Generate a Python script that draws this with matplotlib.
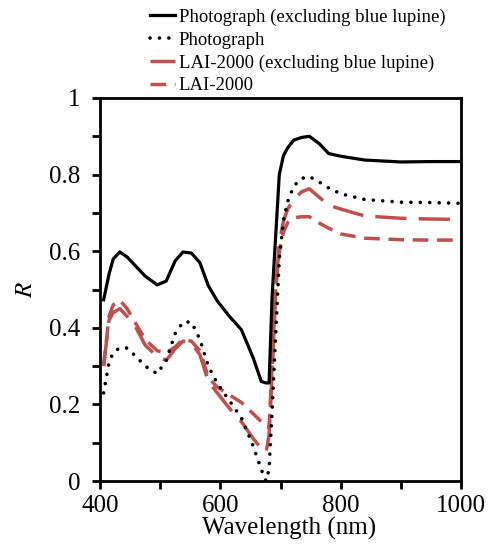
import matplotlib
matplotlib.use('Agg')
import matplotlib.pyplot as plt
from matplotlib.ticker import MultipleLocator

# ==========================================
# data
# ==========================================
wavelength = [406, 415, 422, 433, 445, 460, 475, 495, 510, 525, 538, 552, 566, 580, 595,
              615, 635, 655, 668, 676, 681, 686, 692, 698, 705, 712, 722, 735, 748, 765,
              780, 800, 840, 900, 950, 1000]

photo_excl = [0.473, 0.54, 0.58, 0.598, 0.585, 0.56, 0.535, 0.512, 0.522, 0.575, 0.598, 0.595,
              0.57, 0.51, 0.47, 0.43, 0.395, 0.32, 0.26, 0.256, 0.256, 0.48, 0.64, 0.80,
              0.85, 0.87, 0.89, 0.897, 0.90, 0.88, 0.855, 0.848, 0.838, 0.833, 0.834, 0.834]

photo_all = [0.23, 0.31, 0.335, 0.348, 0.347, 0.325, 0.30, 0.28, 0.315, 0.385, 0.415, 0.415,
             0.37, 0.30, 0.255, 0.21, 0.165, 0.09, 0.03, 0.0, 0.03, 0.18, 0.38, 0.58,
             0.68, 0.73, 0.77, 0.79, 0.795, 0.78, 0.765, 0.75, 0.735, 0.728, 0.727, 0.725]

lai_excl = [0.30, 0.42, 0.44, 0.45, 0.43, 0.40, 0.355, 0.325, 0.315, 0.345, 0.365, 0.36,
            0.33, 0.26, 0.23, 0.19, 0.155, 0.11, 0.085, 0.075, 0.12, 0.28, 0.50, 0.62,
            0.68, 0.71, 0.735, 0.755, 0.763, 0.74, 0.72, 0.71, 0.692, 0.686, 0.684, 0.683]

lai_all = [0.30, 0.43, 0.46, 0.472, 0.45, 0.41, 0.37, 0.34, 0.335, 0.35, 0.37, 0.365,
           0.34, 0.27, 0.245, 0.225, 0.205, 0.175, 0.155, 0.14, 0.14, 0.30, 0.50, 0.60,
           0.65, 0.675, 0.687, 0.69, 0.69, 0.673, 0.66, 0.645, 0.634, 0.63, 0.629, 0.629]

labels = ['Photograph (excluding blue lupine)', 'Photograph',
          'LAI-2000 (excluding blue lupine)', 'LAI-2000']

RED = '#C0504D'

plt.rcParams['font.family'] = ['Liberation Serif', 'DejaVu Serif']
plt.rcParams['mathtext.fontset'] = 'stix'

W, H = 492, 549
fig = plt.figure(figsize=(W / 100, H / 100), dpi=100)
# axes box in pixels: x 100..461, y 98..481
ax = fig.add_axes([100 / W, (H - 481) / H, 361 / W, 383 / H])

ax.plot(wavelength, photo_excl, color='black', lw=2.3, label=labels[0], zorder=5)
ax.plot(wavelength, photo_all, color='black', lw=2.6, linestyle=(0, (0.01, 2.6)),
        dash_capstyle='round', label=labels[1], zorder=4)
ax.plot(wavelength, lai_excl, color=RED, lw=2.5, linestyle=(0, (9, 3.5)),
        label=labels[2], zorder=3)
ax.plot(wavelength, lai_all, color=RED, lw=2.5, linestyle=(0, (4.5, 2.5)),
        label=labels[3], zorder=3)

ax.set_xlim(400, 1000)
ax.set_ylim(0, 1)
ax.xaxis.set_major_locator(MultipleLocator(200))
ax.xaxis.set_minor_locator(MultipleLocator(100))
ax.yaxis.set_major_locator(MultipleLocator(0.2))
ax.yaxis.set_minor_locator(MultipleLocator(0.1))
ax.yaxis.set_major_formatter(plt.FuncFormatter(lambda v, p: f'{v:g}'))

ax.tick_params(which='both', direction='out', width=2, length=6, labelsize=18)
ax.tick_params(axis='y', pad=8)
ax.tick_params(axis='x', pad=4)
for s in ax.spines.values():
    s.set_linewidth(2)

ax.set_xlabel('Wavelength (nm)', fontsize=18, labelpad=0)
ax.xaxis.set_label_coords(0.525, -0.094)
ax.set_ylabel('$R$', fontsize=18, labelpad=9)

fig.legend(loc='upper left', bbox_to_anchor=(142 / W, 1 - 1 / H), frameon=False,
           fontsize=13.5, handlelength=1.35, handletextpad=0.2, labelspacing=0.3,
           borderaxespad=0)

fig.savefig('out.png', dpi=100)
